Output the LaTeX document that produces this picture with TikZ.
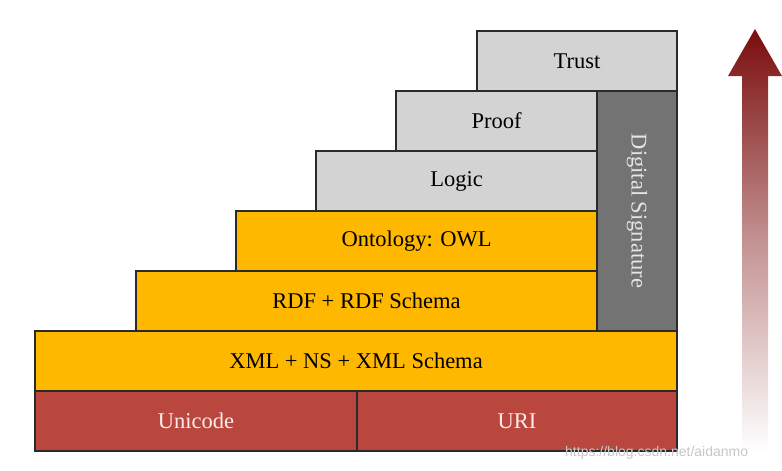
\documentclass[tikz,border=0pt]{standalone}
\usepackage{fontspec}
\setmainfont{Liberation Serif}
\newfontfamily\wmfont{Liberation Sans}
\definecolor{cred}{HTML}{B9473E}
\definecolor{corange}{HTML}{FFB800}
\definecolor{clight}{HTML}{D3D3D3}
\definecolor{cdark}{HTML}{737373}
\definecolor{cedge}{HTML}{2A2A2A}
\definecolor{carrow}{HTML}{7A0C0C}
\begin{document}
\begin{tikzpicture}[x=1pt,y=-1pt,
  layer/.style={draw=cedge,line width=1.1pt,inner sep=0pt,font=\fontsize{22.5}{22.5}\selectfont},
  redbox/.style={layer,fill=cred,text=white!92!red},
  orangebox/.style={layer,fill=corange,text=black},
  greybox/.style={layer,fill=clight,text=black},
  darkbox/.style={layer,fill=cdark,text=white!90!black}]
\useasboundingbox (0,0) rectangle (782,471);
\fill[white] (0,0) rectangle (782,471);
% boxes
\node[greybox,minimum width=200pt,minimum height=60pt] (trust) at (577,61) {Trust};
\node[greybox,minimum width=201pt,minimum height=60pt] (proof) at (496.5,121) {Proof};
\node[greybox,minimum width=281pt,minimum height=60pt] (logic) at (456.5,181) {Logic};
\node[orangebox,minimum width=361pt,minimum height=60pt] (owl) at (416.5,241) {Ontology: OWL};
\node[orangebox,minimum width=461pt,minimum height=60pt] (rdf) at (366.5,301) {RDF + RDF Schema};
\node[orangebox,minimum width=642pt,minimum height=60pt] (xml) at (356,361) {XML + NS + XML Schema};
\node[redbox,minimum width=322pt,minimum height=60pt] (uni) at (196,421) {Unicode};
\node[redbox,minimum width=320pt,minimum height=60pt] (uri) at (517,421) {URI};
\node[darkbox,minimum width=80pt,minimum height=240pt] (sig) at (637,211) {};
\node[text=white!90!black,font=\fontsize{22.5}{22.5}\selectfont,rotate=-90] (sigtxt) at (sig.center) {Digital Signature};
% arrow
\shade[top color=carrow,bottom color=white,middle color=carrow!45!white]
  (755,29) -- (782,76) -- (768,76) -- (768,451) -- (742,451) -- (742,76) -- (728,76) -- cycle;
% watermark
\node[anchor=west,text=black!22,font=\wmfont\fontsize{14}{14}\selectfont,inner sep=0pt] (wm) at (565,453) {https://blog.csdn.net/aidanmo};
\end{tikzpicture}
\end{document}
